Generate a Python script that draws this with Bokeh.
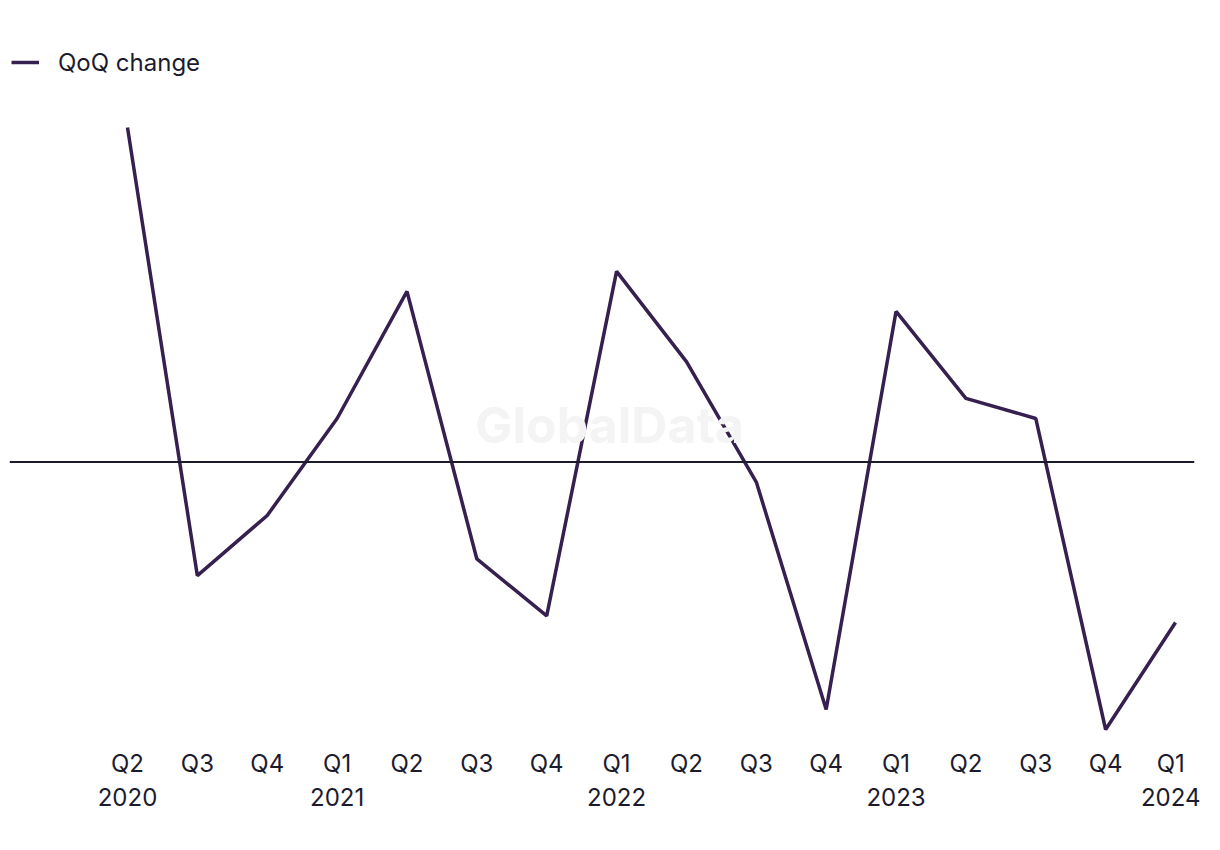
from bokeh.plotting import figure
from bokeh.models import Range1d, FixedTicker, Span, Label, Legend, LegendItem, ColumnDataSource
from bokeh.embed import file_html
from bokeh.resources import INLINE

quarters = ["Q2", "Q3", "Q4", "Q1", "Q2", "Q3", "Q4", "Q1", "Q2", "Q3", "Q4", "Q1", "Q2", "Q3", "Q4", "Q1"]
years = ["2020", "", "", "2021", "", "", "", "2022", "", "", "", "2023", "", "", "", "2024"]
qoq_change = [10.0, -3.4, -1.6, 1.3, 5.1, -2.9, -4.6, 5.7, 3.0, -0.6, -7.4, 4.5, 1.9, 1.3, -8.0, -4.8]

FONT = "Inter"
TEXT = "#1c1b2e"
LINE = "#35204f"

idx = list(range(len(qoq_change)))
labels = {i: (q + "\n" + y if y else q) for i, (q, y) in enumerate(zip(quarters, years))}

p = figure(frame_width=1185, frame_height=722, output_backend="svg", toolbar_location=None,
           x_range=Range1d(-1.689, 15.272), y_range=Range1d(-8.359, 13.23),
           min_border_left=9, min_border_top=19, min_border_right=6, min_border_bottom=10)
p.outline_line_color = None
p.xgrid.visible = False
p.ygrid.visible = False
p.yaxis.visible = False
p.background_fill_color = "white"
p.border_fill_color = "white"

ax = p.xaxis[0]
ax.ticker = FixedTicker(ticks=idx)
ax.major_label_overrides = labels
ax.axis_line_color = None
ax.major_tick_line_color = None
ax.minor_tick_line_color = None
ax.major_label_text_font = FONT
ax.major_label_text_font_size = "24px"
ax.major_label_text_color = TEXT
ax.major_label_standoff = 1

wm = Label(x=610 - 10, y=742 - 425, x_units="screen", y_units="screen", text="GlobalData",
           text_font=FONT, text_font_size="50px", text_font_style="bold",
           text_color="#f4f4f4", text_align="center", text_baseline="middle")
p.add_layout(wm)

p.add_layout(Span(location=0, dimension="width", line_color=TEXT, line_width=2))

src = ColumnDataSource(dict(x=idx, y=qoq_change))
r = p.line("x", "y", source=src, line_color=LINE, line_width=3.5)

leg = Legend(items=[LegendItem(label="QoQ change", renderers=[r])], location=(2, 664),
             border_line_color=None, background_fill_alpha=0, padding=0, margin=0,
             label_text_font=FONT, label_text_font_size="24px", label_text_color=TEXT,
             glyph_width=28, glyph_height=30, label_height=30, label_standoff=19)
p.add_layout(leg)

open("out.html", "w").write(file_html(p, INLINE))
